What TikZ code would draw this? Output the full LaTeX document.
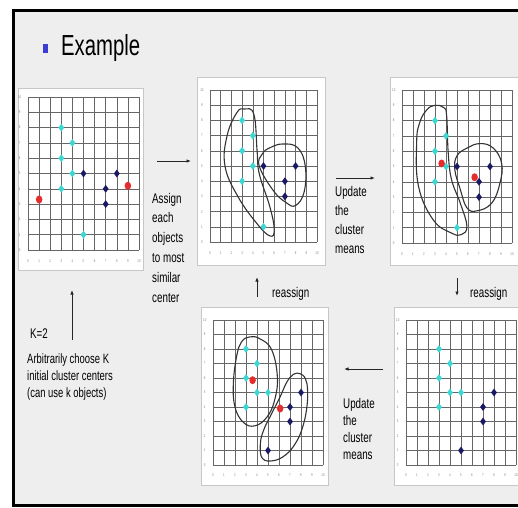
\documentclass[tikz,border=0pt]{standalone}
\usepackage{fontspec}
\setmainfont{Liberation Sans}[FakeStretch=0.7]
\usetikzlibrary{shapes.geometric,arrows.meta}

\definecolor{ptcyan}{RGB}{60,215,210}
\definecolor{ptnavy}{RGB}{25,25,100}
\definecolor{ptred}{RGB}{230,45,45}
\definecolor{slidebg}{RGB}{238,238,238}
\definecolor{bulletblue}{RGB}{60,60,210}

\tikzset{
  panel/.style={draw=black!22, fill=white, line width=0.8pt, inner sep=0pt},
  gridline/.style={black!60, line width=0.55pt},
  axlabel/.style={font=\fontsize{4}{4}\selectfont, text=black!50, inner sep=0pt},
  cyanpt/.style={diamond, fill=ptcyan, inner sep=0pt, minimum width=6pt, minimum height=8pt},
  navypt/.style={diamond, fill=ptnavy, inner sep=0pt, minimum width=6pt, minimum height=8pt},
  redpt/.style={ellipse, fill=ptred, inner sep=0pt, minimum width=6.5pt, minimum height=8pt},
  blob/.style={draw=black!80, line width=1.1pt},
  slidetext/.style={align=left, inner sep=0pt, anchor=base west},
  flow/.style={-{Latex[length=4.5pt,width=3.5pt]}, line width=0.9pt, black!85}
}

% grid with axis numbers, in chart units
\newcommand{\chartgrid}[1]{%
  \foreach \k in {0,...,10}{
    \draw[gridline] (\k,0) -- (\k,10);
    \draw[gridline] (0,\k) -- (10,\k);
    \node[axlabel] (#1y\k) at (-0.75,\k) {\k};
    \node[axlabel] (#1x\k) at (\k,-0.72) {\k};
  }}

% cyan and navy objects
\newcommand{\chartpoints}[3]{%
  \foreach \px/\py [count=\i] in {#2}
    \node[cyanpt] (#1c\i) at (\px,\py) {};
  \foreach \px/\py [count=\i] in {#3}
    \node[navypt] (#1n\i) at (\px,\py) {};
}

\begin{document}
\begin{tikzpicture}[x=1pt, y=-1pt]
  \clip (0,0) rectangle (518,507);
  \fill[white] (0,0) rectangle (518,507);
  \draw[line width=3pt, fill=slidebg] (13.5,10.7) rectangle (540,505);

  % title
  \node[fill=bulletblue, minimum width=5pt, minimum height=9pt, inner sep=0pt] (bul) at (45.5,48) {};
  \node[slidetext, font=\fontsize{29}{29}\selectfont] (title) at (61,55) {Example};

  % panels
  \node[panel, minimum width=125pt, minimum height=182pt] (p1) at (80.5,179) {};
  \node[panel, minimum width=128pt, minimum height=188pt] (p2) at (261,171) {};
  \node[panel, minimum width=128pt, minimum height=188pt] (p3) at (454,171) {};
  \node[panel, minimum width=127pt, minimum height=178pt] (p4) at (264.5,396) {};
  \node[panel, minimum width=127pt, minimum height=178pt] (p5) at (457.5,396) {};

  % initial centers
  \begin{scope}[shift={(28,250)}, x=11.1pt, y=15.3pt]
    \chartgrid{a}
    \chartpoints{a}{3/8,4/7,3/6,4/5,3/4,5/1}{5/5,8/5,7/4,7/3}
    \node[redpt] (ar1) at (1,3.3) {};
    \node[redpt] (ar2) at (9,4.2) {};
  \end{scope}

  % first assignment
  \begin{scope}[shift={(210,242)}, x=10.7pt, y=15.2pt]
    \chartgrid{b}
    \draw[blob] plot[smooth cycle, tension=0.7] coordinates {(3.2,8.75) (4.1,8.4) (4.4,6) (4.6,4.5) (5.6,2.3) (6.0,0.8) (5.6,0.4) (4.4,1.2) (2.6,3) (1.4,5.0) (1.6,7) (2.5,8.5)};
    \draw[blob] plot[smooth cycle, tension=0.7] coordinates {(4.6,5) (4.9,5.8) (5.6,6.2) (6.8,6.45) (8.2,6.2) (8.9,5) (8.8,3.3) (8,2.4) (7.1,2.6) (5.9,3.4)};
    \chartpoints{b}{3/8,4/7,3/6,4/5,3/4,5/1}{5/5,8/5,7/4,7/3}
  \end{scope}

  % updated means
  \begin{scope}[shift={(402,243)}, x=11pt, y=15.3pt]
    \chartgrid{c}
    \draw[blob] plot[smooth cycle, tension=0.7] coordinates {(3,9) (3.8,8.85) (4.06,8.3) (4.2,5.9) (4.5,4.15) (5.3,2.6) (5.9,1.1) (5.4,0.55) (4.5,0.65) (2.85,1.5) (1.5,3.7) (1.33,6.55) (1.6,7.85) (2.25,8.7)};
    \draw[blob] plot[smooth cycle, tension=0.7] coordinates {(5,5.7) (5.9,6.2) (7.1,6.5) (8.3,6.2) (9.06,5.2) (8.9,3.9) (8.15,2.6) (6.8,2.1) (5.9,2.3) (5.3,3.5) (4.8,4.8)};
    \chartpoints{c}{3/8,4/7,3/6,4/5,3/4,5/1}{5/5,8/5,7/4,7/3}
    \node[redpt] (cr1) at (3.6,5.2) {};
    \node[redpt] (cr2) at (6.6,4.3) {};
  \end{scope}

  % reassigned, updated again
  \begin{scope}[shift={(213,465)}, x=11pt, y=14.5pt]
    \chartgrid{d}
    \draw[blob] plot[smooth cycle, tension=0.7] coordinates {(3.36,8.84) (4.27,8.7) (5.33,7.95) (5.85,6.1) (5.6,4.47) (4.9,3.3) (3.8,2.7) (2.75,2.95) (2,4) (1.85,5.6) (2.15,7.5) (2.6,8.5)};
    \draw[blob] plot[smooth cycle, tension=0.7] coordinates {(7.3,6.25) (7.9,6.3) (8.4,5.95) (8.6,5.1) (8.5,3.8) (8.1,2.5) (7.5,1.5) (6.6,0.7) (5.5,0.3) (4.5,0.45) (4.3,1.4) (4.6,2.4) (5.3,3.5) (6.1,4.7) (6.7,5.7)};
    \chartpoints{d}{3/8,4/7,3/6,4/5,5/5,3/4}{8/5,7/4,7/3,5/1}
    \node[redpt] (dr1) at (3.6,5.85) {};
    \node[redpt] (dr2) at (6.1,3.9) {};
  \end{scope}

  % reassigned
  \begin{scope}[shift={(406,465)}, x=11pt, y=14.5pt]
    \chartgrid{e}
    \chartpoints{e}{3/8,4/7,3/6,4/5,5/5,3/4}{8/5,7/4,7/3,5/1}
  \end{scope}

  % steps
  \coordinate (k0) at (72,340);   \coordinate (k1) at (72,290);
  \coordinate (s0) at (157,161);  \coordinate (s1) at (191,161);
  \coordinate (u0) at (336,178);  \coordinate (u1) at (375,178);
  \coordinate (r0) at (457,278);  \coordinate (r1) at (457,296);
  \coordinate (v0) at (383,369);  \coordinate (v1) at (344,369);
  \coordinate (w0) at (257,297);  \coordinate (w1) at (257,277);
  \draw[flow] (k0) -- (k1);
  \draw[flow] (s0) -- (s1);
  \draw[flow] (u0) -- (u1);
  \draw[flow] (r0) -- (r1);
  \draw[flow] (v0) -- (v1);
  \draw[flow] (w0) -- (w1);

  % texts, placed by the baseline of their last line
  \node[slidetext, font=\fontsize{14}{19.8}\selectfont] (assign) at (152,302) {Assign\\each\\objects\\to most\\similar\\center};
  \node[slidetext, font=\fontsize{14}{18.7}\selectfont] (upd1) at (335,253) {Update\\the\\cluster\\means};
  \node[slidetext, font=\fontsize{14}{17}\selectfont] (upd2) at (343,459) {Update\\the\\cluster\\means};
  \node[slidetext, font=\fontsize{14}{17}\selectfont] (kval) at (30,338) {K=2};
  \node[slidetext, font=\fontsize{13.5}{17}\selectfont] (init) at (27,397) {Arbitrarily choose K\\initial cluster centers\\(can use k objects)};
  \node[slidetext, font=\fontsize{14}{17}\selectfont] (rea1) at (272,297) {reassign};
  \node[slidetext, font=\fontsize{14}{17}\selectfont] (rea2) at (470,297) {reassign};
\end{tikzpicture}
\end{document}
